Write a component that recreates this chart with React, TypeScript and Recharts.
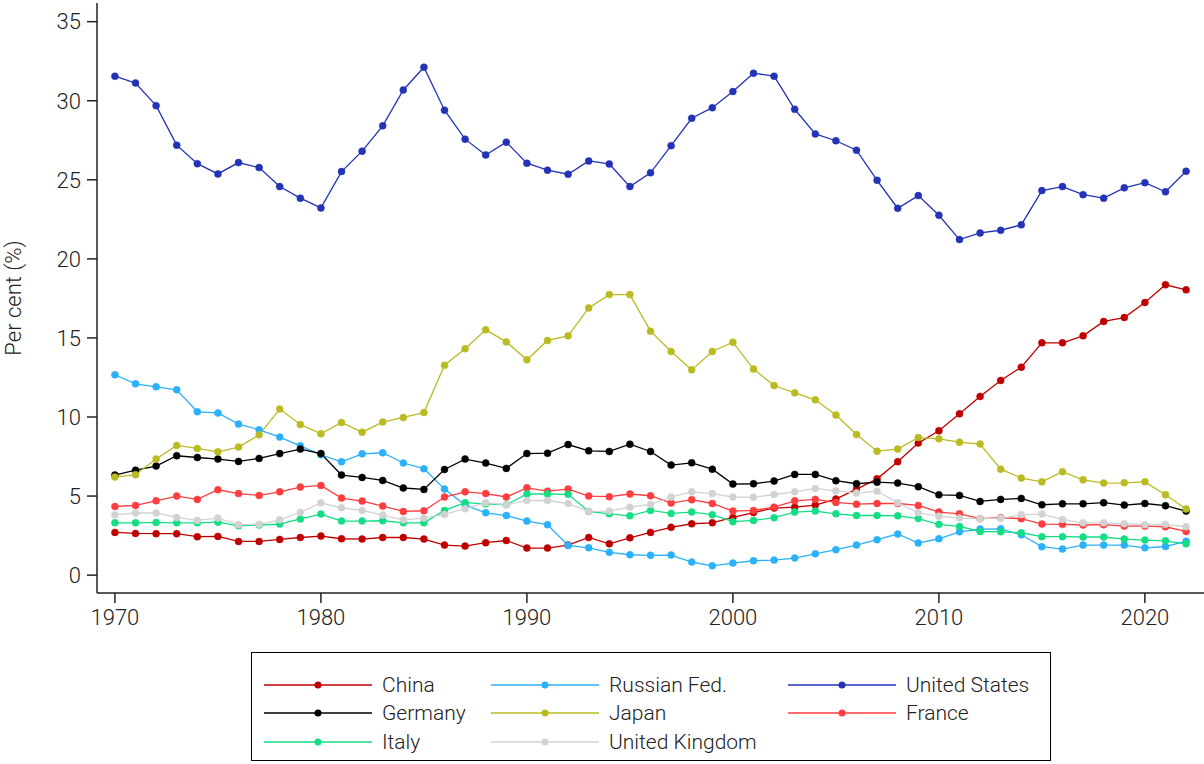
import { LineChart, Line, XAxis, YAxis } from 'recharts';

const years = Array.from({ length: 53 }, (_, i) => 1970 + i);

const china = [2.70, 2.64, 2.62, 2.62, 2.43, 2.45, 2.13, 2.13, 2.26, 2.38, 2.47, 2.30, 2.28, 2.38, 2.38, 2.28, 1.90, 1.84, 2.05,
  2.19, 1.71, 1.71, 1.90, 2.38, 1.98, 2.36, 2.70, 3.02, 3.25, 3.31, 3.65, 3.96, 4.24, 4.30, 4.43, 4.81, 5.44, 6.09,
  7.17, 8.35, 9.13, 10.2, 11.3, 12.31, 13.15, 14.69, 14.69, 15.13, 16.04, 16.29, 17.24, 18.36, 18.04];
const russia = [12.67, 12.1, 11.91, 11.72, 10.33, 10.26, 9.55, 9.19,
  8.73, 8.18, 7.61, 7.17, 7.67, 7.74, 7.09, 6.73, 5.44, 4.43, 3.94,
  3.77, 3.42, 3.19, 1.88, 1.73, 1.44, 1.29, 1.25, 1.27, 0.83, 0.59, 0.76, 0.91, 0.95, 1.08, 1.35, 1.61, 1.90, 2.24,
  2.6, 2.03, 2.30, 2.74, 2.91, 2.93, 2.55, 1.80, 1.65, 1.90, 1.90, 1.90, 1.73, 1.81, 2.15];
const usa = [31.55, 31.12, 29.69, 27.19, 26.02, 25.37, 26.09, 25.77, 24.57, 23.84, 23.22, 25.52, 26.81, 28.41, 30.68, 32.12, 29.40, 27.57, 26.57,
  27.38, 26.05, 25.61, 25.35, 26.19, 26.0, 24.57, 25.44, 27.16, 28.89, 29.56, 30.58, 31.74, 31.55, 29.46, 27.9, 27.47, 26.87, 24.97,
  23.2, 24.0, 22.76, 21.22, 21.64, 21.81, 22.15, 24.32, 24.57, 24.06, 23.84, 24.49, 24.82, 24.24, 25.54];
const germany = [6.33, 6.64, 6.9, 7.55, 7.44, 7.34, 7.19, 7.38, 7.69, 7.97, 7.69, 6.33, 6.18, 5.99, 5.51, 5.42, 6.68, 7.34, 7.09,
  6.75, 7.69, 7.71, 8.26, 7.86, 7.82, 8.28, 7.82, 6.96, 7.1, 6.7, 5.76, 5.78, 5.95, 6.37, 6.37, 5.97, 5.78, 5.88,
  5.82, 5.59, 5.08, 5.04, 4.66, 4.79, 4.85, 4.45, 4.51, 4.51, 4.58, 4.43, 4.53, 4.39, 4.05];
const japan = [6.2, 6.35, 7.34, 8.2, 8.01, 7.8, 8.1, 8.87, 10.5, 9.53, 8.94, 9.65, 9.04, 9.68, 9.97, 10.28, 13.28, 14.31, 15.51,
  14.75, 13.62, 14.84, 15.13, 16.9, 17.74, 17.74, 15.43, 14.14, 12.98, 14.14, 14.73, 13.03, 11.99, 11.53, 11.09, 10.12, 8.89, 7.84,
  7.97, 8.7, 8.62, 8.41, 8.29, 6.7, 6.14, 5.9, 6.54, 6.03, 5.82, 5.84, 5.9, 5.08, 4.18];
const france = [4.34, 4.41, 4.7, 5.0, 4.79, 5.4, 5.16, 5.04, 5.27, 5.57, 5.67, 4.87, 4.68, 4.37, 4.03, 4.07, 4.94, 5.27, 5.16,
  4.94, 5.52, 5.31, 5.44, 5.0, 4.96, 5.13, 5.02, 4.56, 4.77, 4.53, 4.05, 4.09, 4.3, 4.7, 4.79, 4.6, 4.49, 4.53,
  4.53, 4.41, 3.99, 3.88, 3.57, 3.63, 3.57, 3.23, 3.21, 3.17, 3.19, 3.1, 3.1, 3.06, 2.76];
const italy = [3.31, 3.31, 3.33, 3.31, 3.31, 3.35, 3.12, 3.17, 3.23, 3.55, 3.86, 3.42, 3.42, 3.44, 3.31, 3.31, 4.09, 4.58, 4.51,
  4.45, 5.13, 5.13, 5.11, 4.03, 3.88, 3.75, 4.09, 3.9, 3.99, 3.82, 3.38, 3.46, 3.63, 3.99, 4.05, 3.88, 3.77, 3.77,
  3.75, 3.58, 3.21, 3.08, 2.76, 2.74, 2.68, 2.43, 2.43, 2.41, 2.41, 2.28, 2.22, 2.17, 1.98];
const uk = [3.82, 3.93, 3.93, 3.65, 3.46, 3.61, 3.19, 3.21, 3.5, 3.96, 4.56, 4.26, 4.09, 3.8, 3.5, 3.61, 3.84, 4.2, 4.58,
  4.45, 4.72, 4.72, 4.53, 4.03, 4.05, 4.3, 4.47, 4.94, 5.27, 5.16, 4.94, 4.92, 5.1, 5.27, 5.48, 5.33, 5.19, 5.31,
  4.58, 3.94, 3.73, 3.61, 3.57, 3.59, 3.82, 3.86, 3.52, 3.31, 3.31, 3.25, 3.19, 3.21, 3.06];

const xTicks = [1970, 1980, 1990, 2000, 2010, 2020];
const yTicks = [0, 5, 10, 15, 20, 25, 30, 35];

const series = [
  { key: 'china', name: 'China', values: china, color: '#C00000' },
  { key: 'russia', name: 'Russian Fed.', values: russia, color: '#2BB1FA' },
  { key: 'usa', name: 'United States', values: usa, color: '#2333B5' },
  { key: 'germany', name: 'Germany', values: germany, color: '#000000' },
  { key: 'japan', name: 'Japan', values: japan, color: '#BABB22' },
  { key: 'france', name: 'France', values: france, color: '#FF3C3F' },
  { key: 'italy', name: 'Italy', values: italy, color: '#14DE84' },
  { key: 'uk', name: 'United Kingdom', values: uk, color: '#D2D2D2' },
];

const data = years.map((year, i) => {
  const row: Record<string, number> = { year };
  series.forEach((s) => { row[s.key] = s.values[i]; });
  return row;
});

const FONT = 'Roboto, "Liberation Sans", sans-serif';
const tickStyle = { fontSize: 22, fill: '#222', fontFamily: FONT, fontWeight: 300 };

// rotated y title, kept inside the left edge
function YTitle() {
  return (
    <text
      x={13}
      y={298}
      transform="rotate(-90, 13, 298)"
      textAnchor="middle"
      dominantBaseline="central"
      style={{ fontSize: 22, fill: '#222', fontFamily: FONT, fontWeight: 300 }}
    >
      Per cent (%)
    </text>
  );
}

function LegendBox() {
  const cols = [263, 490, 787];
  const rows = [684, 712, 741];
  return (
    <div style={{ position: 'absolute', left: 251, top: 652, width: 800, height: 109, border: '1px solid #000', boxSizing: 'border-box' }}>
      {series.map((s, i) => {
        const c = cols[i % 3] - 251;
        const r = rows[Math.floor(i / 3)] - 652;
        return (
          <div key={s.key}>
            <svg style={{ position: 'absolute', left: c, top: r - 6 }} width={108} height={12}>
              <line x1={0} x2={108} y1={6} y2={6} stroke={s.color} strokeWidth={1.3} />
              <circle cx={54} cy={6} r={3.5} fill={s.color} />
            </svg>
            <span style={{ position: 'absolute', left: c + 118, top: r - 13, fontSize: 21, lineHeight: '26px', fontFamily: FONT, fontWeight: 300, color: '#222', whiteSpace: 'nowrap' }}>
              {s.name}
            </span>
          </div>
        );
      })}
    </div>
  );
}

export default function App() {
  return (
    <div style={{ position: 'absolute', left: 0, top: 0, width: 1204, height: 764, background: '#fff' }}>
      <LineChart width={1204} height={764} data={data} margin={{ top: 3, right: 0, bottom: 131, left: 0 }}>
        <XAxis
          dataKey="year"
          type="number"
          domain={[1969.13, 2022.87]}
          ticks={xTicks}
          tickSize={10}
          tickMargin={6}
          height={40}
          tick={tickStyle}
          axisLine={{ stroke: '#222', strokeWidth: 1.5 }}
          tickLine={{ stroke: '#222', strokeWidth: 1.5 }}
        />
        <YAxis
          type="number"
          domain={[-1.13, 36.18]}
          ticks={yTicks}
          tickSize={10}
          tickMargin={6}
          width={97}
          tick={tickStyle}
          axisLine={{ stroke: '#222', strokeWidth: 1.5 }}
          tickLine={{ stroke: '#222', strokeWidth: 1.5 }}
          label={<YTitle />}
        />
        {series.map((s) => (
          <Line
            key={s.key}
            dataKey={s.key}
            name={s.name}
            type="linear"
            stroke={s.color}
            strokeWidth={1.3}
            dot={{ r: 3.5, fill: s.color, stroke: s.color, strokeWidth: 0.5 }}
            activeDot={false}
            isAnimationActive={false}
          />
        ))}
      </LineChart>
      <LegendBox />
    </div>
  );
}
